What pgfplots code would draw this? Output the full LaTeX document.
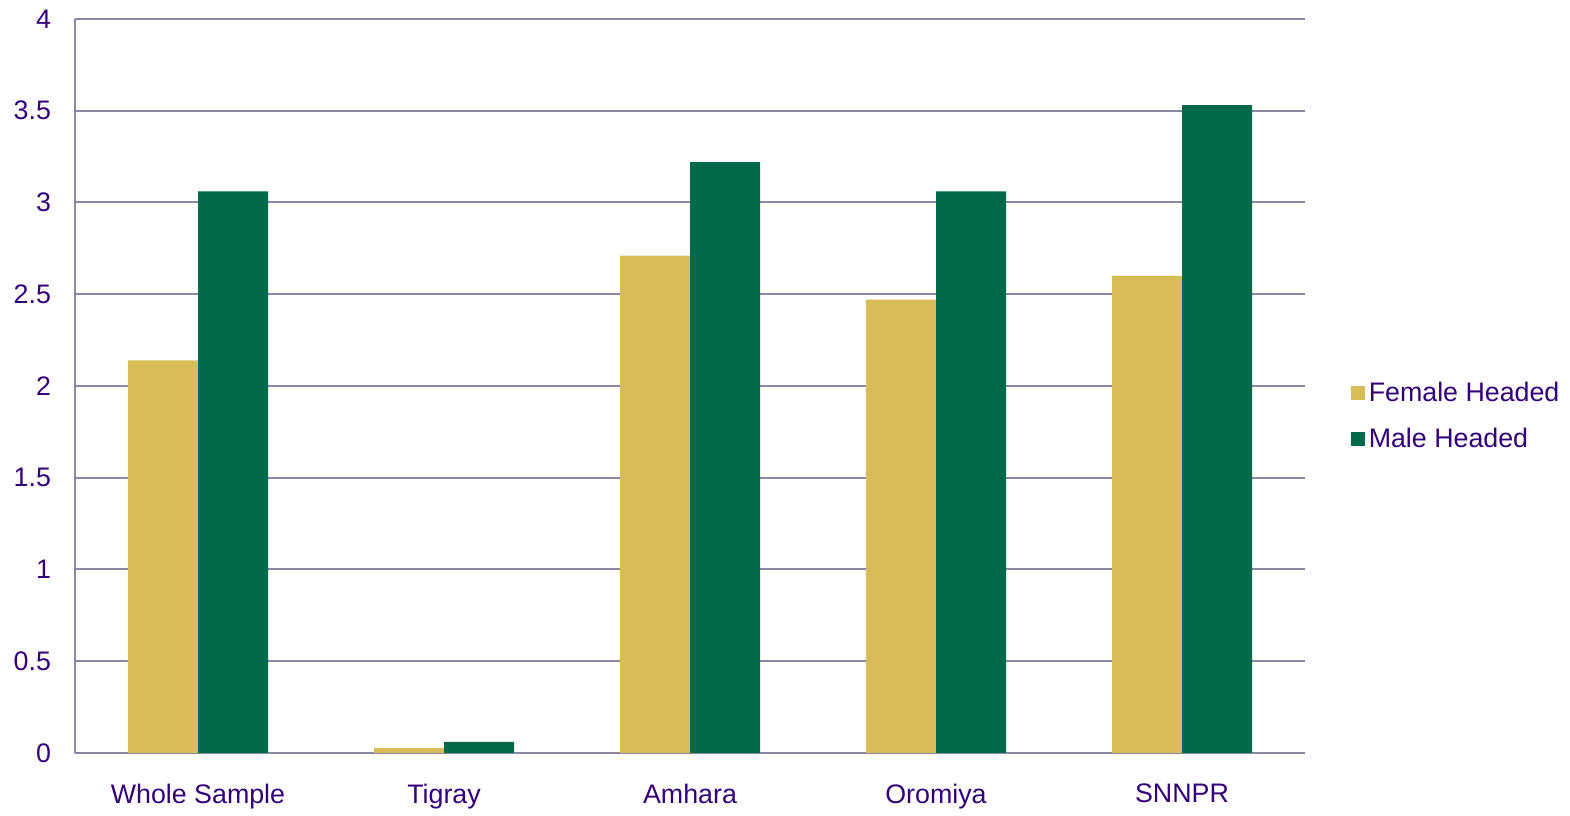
\documentclass[border=0pt]{standalone}
\usepackage{pgfplots}
\pgfplotsset{compat=1.18}
\usepackage{fontspec}
\setmainfont{Liberation Sans}
\definecolor{fem}{HTML}{D8BC58}
\definecolor{mal}{HTML}{006A4A}
\definecolor{txt}{HTML}{33007A}
\definecolor{grd}{HTML}{8C87A6}
\begin{document}
\begin{tikzpicture}
\begin{axis}[
    name=ax,
    scale only axis,
    width=615pt, height=367pt,
    ybar=0pt, bar width=35pt,
    xmin=-0.5, xmax=4.5,
    ymin=0, ymax=4,
    xtick=data,
    xticklabels={Whole Sample, Tigray, Amhara, Oromiya, SNNPR},
    ytick={0,0.5,...,4},
    yticklabel style={/pgf/number format/assume math mode=true, /pgf/number format/fixed},
    ymajorgrids,
    grid style={grd, line width=1pt},
    axis x line*=bottom,
    axis y line*=left,
    axis line style={grd, line width=1pt, -},
    major tick length=0pt,
    tick label style={font=\fontsize{13.4}{15}\selectfont, text=txt},
    yticklabel style={xshift=-8.5pt},
    xticklabel style={yshift=-12pt},
    legend style={at={(1.032,0.459)}, anchor=west, draw=none, fill=none,
        font=\fontsize{13.4}{15}\selectfont, text=txt, row sep=8pt,
        /tikz/every even column/.append style={column sep=2pt}},
    legend cell align=left,
    legend image code/.code={\fill[#1] (0pt,-3.5pt) rectangle (7pt,3.5pt);},
]
\addplot[fill=fem, draw=none] coordinates {(0,2.14) (1,0.027) (2,2.71) (3,2.47) (4,2.60)};
\addlegendentry{Female Headed}
\addplot[fill=mal, draw=none] coordinates {(0,3.06) (1,0.06) (2,3.22) (3,3.06) (4,3.53)};
\addlegendentry{Male Headed}
\end{axis}
\useasboundingbox ([xshift=-37.5pt,yshift=-28.5pt]ax.south west) rectangle ([xshift=132.5pt,yshift=9.5pt]ax.north east);
\end{tikzpicture}
\end{document}
